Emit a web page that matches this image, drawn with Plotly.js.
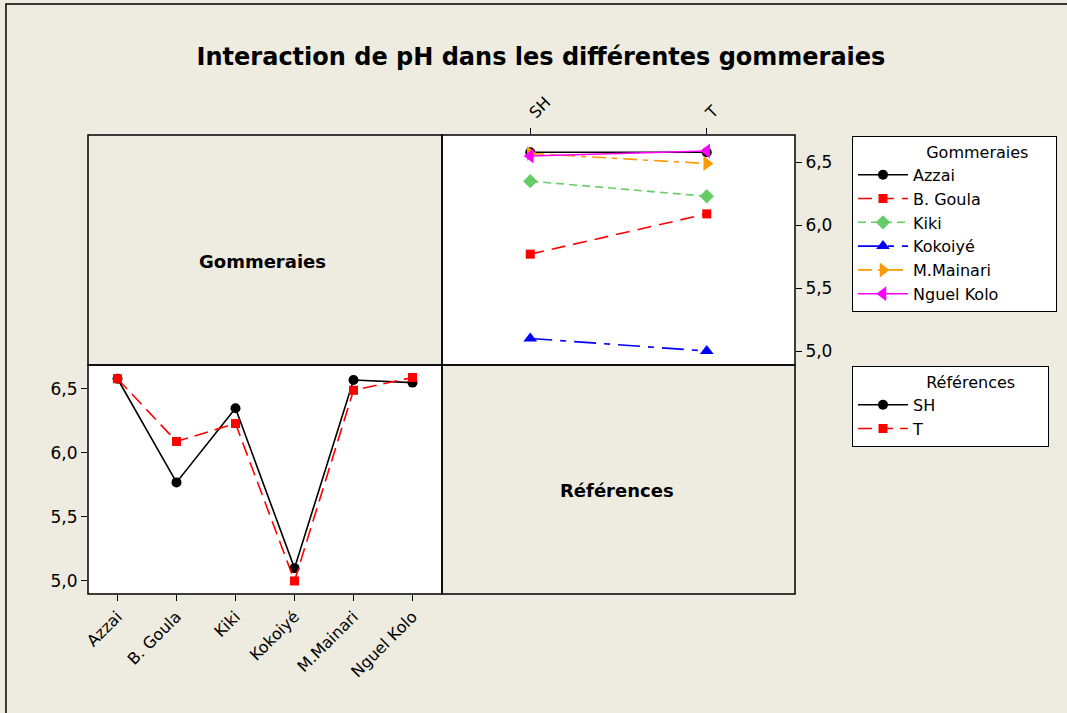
<!DOCTYPE html>
<html>
<head>
<meta charset="utf-8">
<script src="https://cdn.plot.ly/plotly-3.0.1.min.js"></script>
<style>html,body{margin:0;padding:0;background:#EEEBE1;overflow:hidden;}#chart{width:1067px;height:713px;}</style>
</head>
<body>
<div id="chart"></div>
<script>
// ---- data ----
const gommeraies = ["Azzai", "B. Goula", "Kiki", "Kokoiyé", "M.Mainari", "Nguel Kolo"];
const references = ["SH", "T"];
const valSH = [6.58, 5.77, 6.35, 5.10, 6.57, 6.55];
const valT  = [6.58, 6.09, 6.23, 5.00, 6.49, 6.59];

// ---- styles ----
const gStyles = [
  {color: "#000000", dash: "solid", symbol: "circle", size: 10},
  {color: "#FF0000", dash: "14px,8px", symbol: "square", size: 9},
  {color: "#66CC66", dash: "8px,5px", symbol: "diamond", size: 11},
  {color: "#0000FF", dash: "22px,8px,6px,8px", symbol: "triangle-up", size: 12},
  {color: "#FF9900", dash: "14px,6px,5px,6px", symbol: "triangle-right", size: 13},
  {color: "#FF00FF", dash: "solid", symbol: "triangle-left", size: 13}
];
const rStyles = [
  {color: "#000000", dash: "solid", symbol: "circle", size: 10},
  {color: "#FF0000", dash: "14px,7px", symbol: "square", size: 9}
];

const traces = [];
gommeraies.forEach((g, i) => {
  const s = gStyles[i];
  traces.push({
    type: "scatter", mode: "lines+markers", name: g,
    x: references, y: [valSH[i], valT[i]],
    xaxis: "x2", yaxis: "y2", legend: "legend",
    line: {color: s.color, dash: s.dash, width: 1.6},
    marker: {color: s.color, symbol: s.symbol, size: s.size}
  });
});
const refVals = [valSH, valT];
references.forEach((r, j) => {
  const s = rStyles[j];
  traces.push({
    type: "scatter", mode: "lines+markers", name: r,
    x: gommeraies, y: refVals[j],
    xaxis: "x", yaxis: "y", legend: "legend2",
    line: {color: s.color, dash: s.dash, width: 1.6},
    marker: {color: s.color, symbol: s.symbol, size: s.size}
  });
});

const W = 1067, H = 713;
const px = v => v / W, py = v => 1 - v / H;
const L = 88, M = 442, R = 795, T = 135, MY = 365, B = 594;
const FONT = "DejaVu Sans, Verdana, sans-serif";
const BG = "#EEEBE1";
const IND = "\u00A0".repeat(14);
const TAIL = "\u00A0".repeat(5);

function panel(x0, y0, x1, y1) {
  return {type: "rect", xref: "paper", yref: "paper", x0: px(x0), x1: px(x1), y0: py(y1), y1: py(y0),
          line: {color: "#000", width: 1.5}, fillcolor: "rgba(0,0,0,0)", layer: "above"};
}

const layout = {
  width: W, height: H,
  margin: {l: 0, r: 0, t: 0, b: 0},
  paper_bgcolor: BG, plot_bgcolor: "#FFFFFF",
  separators: ", ",
  font: {family: FONT, size: 16, color: "#000"},
  title: {text: "<b>Interaction de pH dans les différentes gommeraies</b>",
          x: px(541), y: py(57), xanchor: "center", yanchor: "middle", xref: "paper", yref: "paper",
          font: {family: FONT, size: 24, color: "#000"}},
  showlegend: true,
  xaxis: {domain: [px(L), px(M)], anchor: "y", type: "category", range: [-0.5, 5.5],
          ticks: "outside", ticklen: 6, tickcolor: "#000", tickangle: -45,
          showgrid: false, zeroline: false, showline: false, tickfont: {size: 16}},
  yaxis: {domain: [py(B), py(MY)], anchor: "x", range: [4.898, 6.6875], dtick: 0.5, tick0: 5,
          tickformat: ".1f", ticks: "outside", ticklen: 6, tickcolor: "#000",
          showgrid: false, zeroline: false, showline: false, tickfont: {size: 17}},
  xaxis2: {domain: [px(M), px(R)], anchor: "y2", side: "top", type: "category", range: [-0.5, 1.5],
           ticks: "outside", ticklen: 6, tickcolor: "#000", tickangle: -45,
           showgrid: false, zeroline: false, showline: false, tickfont: {size: 16}},
  yaxis2: {domain: [py(MY), py(T)], anchor: "x2", side: "right", range: [4.889, 6.717], dtick: 0.5, tick0: 5,
           tickformat: ".1f", ticks: "outside", ticklen: 6, tickcolor: "#000",
           showgrid: false, zeroline: false, showline: false, tickfont: {size: 17}},
  legend: {x: px(852), y: py(136), xanchor: "left", yanchor: "top",
           bgcolor: "#FFFFFF", bordercolor: "#000", borderwidth: 1,
           font: {family: FONT, size: 16}, itemwidth: 50,
           title: {text: IND + "Gommeraies" + TAIL, font: {family: FONT, size: 16}}},
  legend2: {x: px(852), y: py(366), xanchor: "left", yanchor: "top",
            bgcolor: "#FFFFFF", bordercolor: "#000", borderwidth: 1,
            font: {family: FONT, size: 16}, itemwidth: 50,
            title: {text: IND + "Références" + TAIL + "\u00A0", font: {family: FONT, size: 16}}},
  shapes: [
    {type: "path", xref: "paper", yref: "paper", path: "M 0.0056 0 L 0.0056 0.9944 L 1 0.9944",
     line: {color: "#000", width: 1.5}, fillcolor: "rgba(0,0,0,0)"},
    panel(L, T, M, MY), panel(M, T, R, MY), panel(L, MY, M, B), panel(M, MY, R, B)
  ],
  annotations: [
    {text: "<b>Gommeraies</b>", xref: "paper", yref: "paper", x: px(262), y: py(262),
     xanchor: "center", yanchor: "middle", showarrow: false, font: {family: FONT, size: 18}},
    {text: "<b>Références</b>", xref: "paper", yref: "paper", x: px(617), y: py(490),
     xanchor: "center", yanchor: "middle", showarrow: false, font: {family: FONT, size: 18}}
  ]
};

Plotly.newPlot("chart", traces, layout, {displayModeBar: false, staticPlot: true});
</script>
</body>
</html>
